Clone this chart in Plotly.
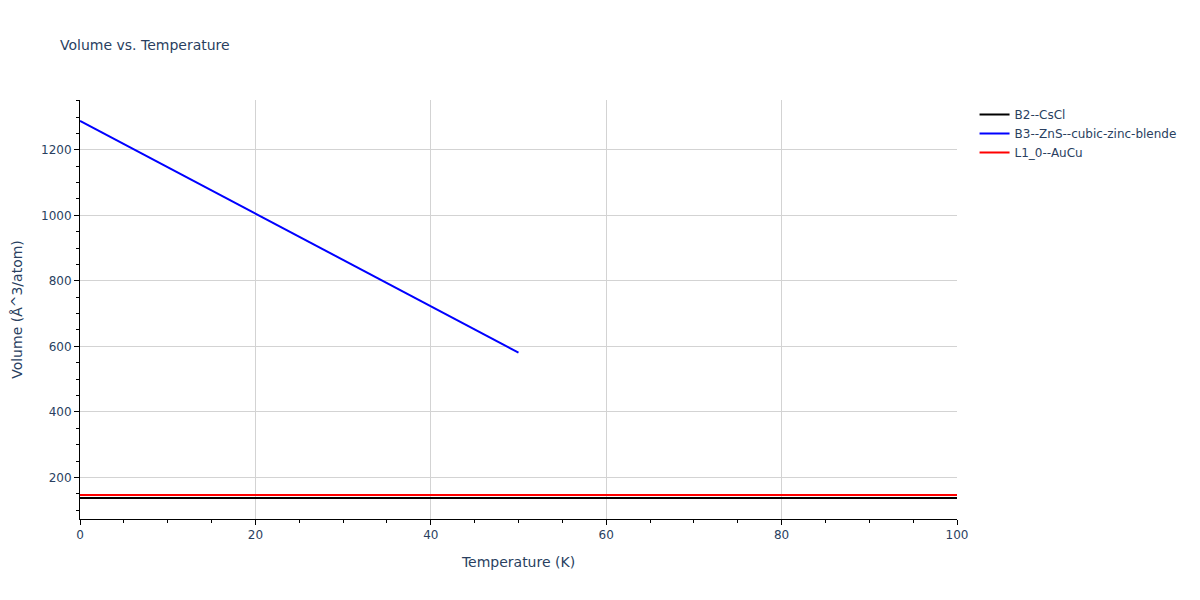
import plotly.graph_objs as go

# temperature (K) and volume (A^3/atom)
temp_b2 = [0, 20, 40, 60, 80, 100]
vol_b2 = [137, 137, 137, 137, 137, 137]

temp_b3 = [0, 10, 20, 30, 40, 50]
vol_b3 = [1288, 1147, 1005, 864, 724, 581]

temp_l10 = [0, 20, 40, 60, 80, 100]
vol_l10 = [146, 146, 146, 146, 146, 146]

names = ["B2--CsCl", "B3--ZnS--cubic-zinc-blende", "L1_0--AuCu"]
colors = ["black", "blue", "red"]


def main():
    fig = go.Figure()
    series = [(temp_b2, vol_b2), (temp_b3, vol_b3), (temp_l10, vol_l10)]
    for (x, y), name, color in zip(series, names, colors):
        fig.add_trace(go.Scatter(x=x, y=y, mode="lines", name=name,
                                 line=dict(color=color, width=2)))

    axis_style = dict(
        showline=True, linecolor="black", linewidth=1,
        ticks="outside", tickcolor="black", ticklen=5,
        showgrid=True, gridcolor="lightgray", zeroline=False,
        minor=dict(ticks="outside", ticklen=3, tickcolor="black", showgrid=False),
        automargin=False,
    )
    fig.update_layout(
        font=dict(family="DejaVu Sans", color="#2a3f5f", size=12),
        title=dict(text="Volume vs. Temperature", x=0.05, y=1 - 45 / 600,
                   yanchor="middle", font=dict(size=14)),
        width=1200, height=600,
        margin=dict(l=80, r=243, t=100, b=81),
        xaxis_title=dict(text="Temperature (K)", font=dict(size=14)),
        yaxis_title=dict(text="Volume (Å^3/atom)", font=dict(size=14)),
        plot_bgcolor="white", paper_bgcolor="white",
        legend=dict(x=1.02, y=1, font=dict(size=12)),
    )
    fig.update_xaxes(range=[0, 100], dtick=20, minor_dtick=5, **axis_style)
    fig.update_yaxes(dtick=200, minor_dtick=50, **axis_style)
    # drop the default page margin so the figure sits at the window corner
    fig.write_html("out.html", config={"displayModeBar": False},
                   post_script="document.body.style.margin = '0';")


if __name__ == "__main__":
    main()
